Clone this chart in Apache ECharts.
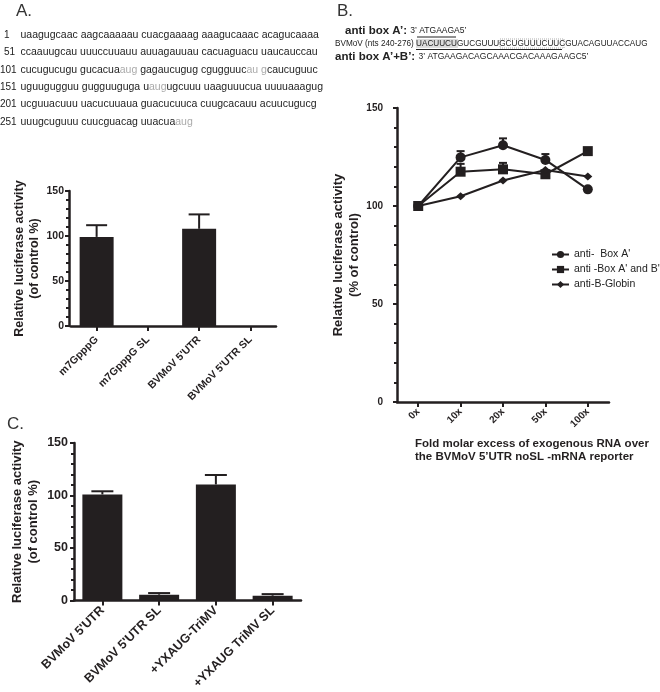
<!DOCTYPE html>
<html><head><meta charset="utf-8">
<script src="https://cdn.jsdelivr.net/npm/echarts@6/dist/echarts.min.js"></script>
<style>html,body{margin:0;padding:0;background:#fff}#c{width:660px;height:692px}</style>
</head><body><div id="c"></div>
<script>
// ---- Panel A: bar chart ----
const catA = ['m7GpppG', 'm7GpppG SL', "BVMoV 5'UTR", "BVMoV 5'UTR SL"];
const valA = [99, 0, 108, 0];
const errA = [13, 0, 16, 0];
// ---- Panel B: line chart ----
const catB = ['0x', '10x', '20x', '50x', '100x'];
const boxA = [100, 124.8, 131, 123.5, 108.5];
const boxAErr = [0, 3.2, 3.5, 3, 0];
const boxAB = [100, 117.5, 118.7, 116.2, 128];
const boxABErr = [0, 4, 3.3, 0, 1];
const globin = [100, 105, 113, 118.4, 115];
const globinErr = [0, 0, 0, 0, 0];
const namesB = ["anti-  Box A'", "anti -Box A' and B'", 'anti-B-Globin'];
// ---- Panel C: bar chart ----
const catC = ["BVMoV 5'UTR", "BVMoV 5'UTR SL", '+YXAUG-TriMV', '+YXAUG TriMV SL'];
const valC = [101, 5.5, 110.5, 4.5];
const errC = [3, 1.5, 9, 1.5];
// sequence text (panel A)
const seqNums = ['1', '51', '101', '151', '201', '251'];
const seqLines = [
  [['uaagugcaac aagcaaaaau cuacgaaaag aaagucaaac acagucaaaa', 'n']],
  [['ccaauugcau uuuccuuauu auuagauuau cacuaguacu uaucauccau', 'n']],
  [['cucugucugu gucacua', 'n'], ['aug', 'g'], [' gagaucugug cgugguuc', 'n'], ['au g', 'g'], ['caucuguuc', 'n']],
  [['uguugugguu gugguuguga u', 'n'], ['aug', 'g'], ['ugcuuu uaaguuucua uuuuaaagug', 'n']],
  [['ucguuacuuu uacucuuaua guacucuuca cuugcacauu acuucugucg', 'n']],
  [['uuugcuguuu cuucguacag uuacua', 'n'], ['aug', 'g']]
];

const INK = '#231f20';
const FONT = '"Liberation Sans", Arial, sans-serif';

function errBar(capW) {
  return function (params, api) {
    const x = api.value(0), v = api.value(1), e = api.value(2);
    if (!e) return null;
    const p0 = api.coord([x, v]);
    const p1 = api.coord([x, v + e]);
    const st = { stroke: INK, lineWidth: 2 };
    return { type: 'group', children: [
      { type: 'line', shape: { x1: p0[0], y1: p0[1], x2: p1[0], y2: p1[1] }, style: st },
      { type: 'line', shape: { x1: p1[0] - capW / 2, y1: p1[1], x2: p1[0] + capW / 2, y2: p1[1] }, style: st }
    ]};
  };
}

function yAxisCfg(grid, fs, margin, nameGap, nameFs, offset) {
  return {
    gridIndex: grid, type: 'value', min: 0, max: 150, interval: 50, offset: offset || 0,
    name: 'Relative luciferase activity\n' + (grid === 1 ? '(% of control)' : '(of control %)'),
    nameLocation: 'middle', nameRotate: 90, nameGap: nameGap,
    nameTextStyle: { fontFamily: FONT, fontWeight: 'bold', fontSize: nameFs, color: INK, lineHeight: nameFs + 3 },
    axisLine: { show: true, lineStyle: { color: INK, width: 2.5 } },
    axisTick: { show: true, length: 4, lineStyle: { color: INK, width: 2 } },
    minorTick: { show: true, splitNumber: 5, length: 3, lineStyle: { color: INK, width: 2 } },
    splitLine: { show: false },
    axisLabel: { fontFamily: FONT, fontWeight: 'bold', fontSize: fs, color: INK, margin: margin }
  };
}

function xCatCfg(grid, cats, fs, margin) {
  return {
    gridIndex: grid, type: 'category', data: cats,
    axisLine: { show: true, lineStyle: { color: INK, width: 2.5 } },
    axisTick: { show: true, alignWithLabel: true, length: 5, lineStyle: { color: INK, width: 2 } },
    axisLabel: { rotate: 45, fontFamily: FONT, fontWeight: 'bold', fontSize: fs, color: INK, margin: margin, interval: 0 }
  };
}

const graphics = [];
graphics.push({ type: 'text', left: 16, top: 3, style: { text: 'A.', fontFamily: FONT, fontSize: 17, fill: '#333' } });
graphics.push({ type: 'text', left: 337, top: 3, style: { text: 'B.', fontFamily: FONT, fontSize: 17, fill: '#333' } });
graphics.push({ type: 'text', left: 7, top: 416, style: { text: 'C.', fontFamily: FONT, fontSize: 17, fill: '#333' } });

seqNums.forEach((n, i) => {
  const y = 35 + i * 17.4;
  const short = n.length < 3;
  graphics.push({ type: 'text', x: short ? 4 : 0, y: y, style: { text: n, fontFamily: FONT, fontSize: 10, fill: '#222', verticalAlign: 'middle' } });
  const txt = seqLines[i].map(s => '{' + s[1] + '|' + s[0] + '}').join('');
  graphics.push({ type: 'text', x: 20.5, y: y, style: {
    text: txt, verticalAlign: 'middle', fontFamily: FONT, fontSize: 10.5,
    rich: { n: { fill: '#222', fontFamily: FONT, fontSize: 10.5 }, g: { fill: '#aaa', fontFamily: FONT, fontSize: 10.5 } }
  } });
});

// Panel B header text
graphics.push({ type: 'text', x: 345, y: 31, style: { text: "{b|anti box A\u2019:} {s|3\u2019 ATGAAGA5\u2019}", verticalAlign: 'middle',
  rich: { b: { fontFamily: FONT, fontWeight: 'bold', fontSize: 11.5, fill: '#222' }, s: { fontFamily: FONT, fontSize: 8.5, fill: '#222' } } } });
graphics.push({ type: 'rect', shape: { x: 416, y: 39, width: 42, height: 9 }, style: { fill: '#ddd' } });
graphics.push({ type: 'rect', shape: { x: 500, y: 39, width: 64, height: 9 }, style: { fill: 'none', stroke: '#999', lineWidth: 0.8, lineDash: [1, 1] } });
graphics.push({ type: 'text', x: 335, y: 44, style: { text: 'BVMoV (nts 240-276) UACUUCUGUCGUUUGCUGUUUCUUCGUACAGUUACCAUG', verticalAlign: 'middle', fontFamily: FONT, fontSize: 8.2, fill: '#222' } });
graphics.push({ type: 'line', shape: { x1: 417, y1: 37, x2: 456, y2: 37 }, style: { stroke: '#222', lineWidth: 1.2 } });
graphics.push({ type: 'line', shape: { x1: 416, y1: 49.5, x2: 562, y2: 49.5 }, style: { stroke: '#222', lineWidth: 1.2 } });
graphics.push({ type: 'text', x: 335, y: 57, style: { text: "{b|anti box A\u2019+B\u2019:} {s|3\u2019 ATGAAGACAGCAAACGACAAAGAAGC5\u2019}", verticalAlign: 'middle',
  rich: { b: { fontFamily: FONT, fontWeight: 'bold', fontSize: 11.5, fill: '#222' }, s: { fontFamily: FONT, fontSize: 8.5, fill: '#222' } } } });
// Panel B x-axis title
graphics.push({ type: 'text', x: 415, y: 437, style: { text: 'Fold molar excess of exogenous RNA over\nthe BVMoV 5\u2019UTR noSL -mRNA reporter', fontFamily: FONT, fontWeight: 'bold', fontSize: 11.5, lineHeight: 13, fill: INK } });

const option = {
  animation: false,
  backgroundColor: '#fff',
  grid: [
    { left: 71, width: 205, top: 191, height: 135 },
    { left: 397, width: 212, top: 108, height: 294 },
    { left: 74, width: 227, top: 443, height: 158 }
  ],
  xAxis: [
    xCatCfg(0, catA, 10.5, 12),
    xCatCfg(1, catB, 10, 8),
    xCatCfg(2, catC, 12.5, 8)
  ],
  yAxis: [
    yAxisCfg(0, 10.5, 5, 26, 12.5, 2),
    yAxisCfg(1, 10, 14, 35, 13, 0),
    yAxisCfg(2, 12.5, 6, 33, 13, 0)
  ],
  legend: {
    left: 546, top: 244, orient: 'vertical', itemWidth: 17, itemHeight: 9, itemGap: 4,
    data: namesB,
    textStyle: { fontFamily: FONT, fontSize: 10.5, color: '#222', overflow: 'none' }
  },
  series: [
    { type: 'bar', xAxisIndex: 0, yAxisIndex: 0, data: valA, barWidth: 34, itemStyle: { color: INK } },
    { type: 'custom', xAxisIndex: 0, yAxisIndex: 0, renderItem: errBar(21), data: catA.map((c, i) => [i, valA[i], errA[i]]), z: 5 },
    { type: 'bar', xAxisIndex: 2, yAxisIndex: 2, data: valC, barWidth: 40, itemStyle: { color: INK } },
    { type: 'custom', xAxisIndex: 2, yAxisIndex: 2, renderItem: errBar(22), data: catC.map((c, i) => [i, valC[i], errC[i]]), z: 5 },
    { name: namesB[0], type: 'line', xAxisIndex: 1, yAxisIndex: 1, data: boxA, symbol: 'circle', symbolSize: 10,
      lineStyle: { color: INK, width: 2 }, itemStyle: { color: INK } },
    { name: namesB[1], type: 'line', xAxisIndex: 1, yAxisIndex: 1, data: boxAB, symbol: 'rect', symbolSize: 10,
      lineStyle: { color: INK, width: 2 }, itemStyle: { color: INK } },
    { name: namesB[2], type: 'line', xAxisIndex: 1, yAxisIndex: 1, data: globin, symbol: 'diamond', symbolSize: [9, 8],
      lineStyle: { color: INK, width: 2 }, itemStyle: { color: INK } },
    { type: 'custom', xAxisIndex: 1, yAxisIndex: 1, renderItem: errBar(8), data: catB.map((c, i) => [i, boxA[i], boxAErr[i]]), z: 5 },
    { type: 'custom', xAxisIndex: 1, yAxisIndex: 1, renderItem: errBar(8), data: catB.map((c, i) => [i, boxAB[i], boxABErr[i]]), z: 5 },
    { type: 'custom', xAxisIndex: 1, yAxisIndex: 1, renderItem: errBar(8), data: catB.map((c, i) => [i, globin[i], globinErr[i]]), z: 5 }
  ],
  graphic: graphics
};
const chart = echarts.init(document.getElementById('c'), null, { renderer: 'canvas' });
chart.setOption(option);
</script></body></html>
